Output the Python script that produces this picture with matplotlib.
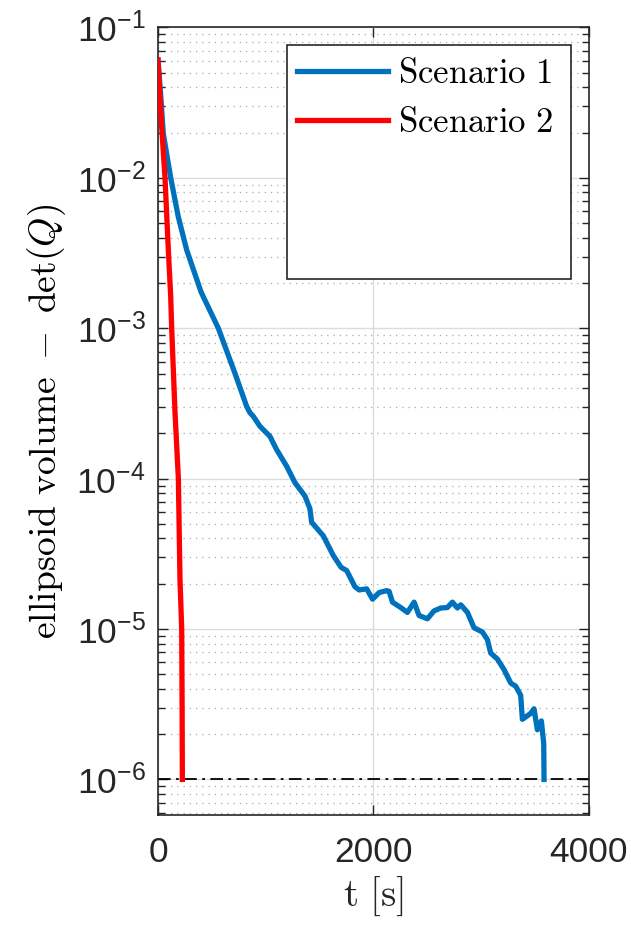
import matplotlib
matplotlib.use("Agg")
import matplotlib.pyplot as plt
import numpy as np
from matplotlib.patches import Rectangle
from matplotlib.ticker import LogLocator, FixedLocator, NullFormatter

plt.rcParams['font.family'] = 'Liberation Sans'
plt.rcParams['mathtext.fontset'] = 'custom'
plt.rcParams['mathtext.rm'] = 'Liberation Sans'
plt.rcParams['mathtext.it'] = 'Liberation Sans:italic'
plt.rcParams['mathtext.default'] = 'rm'

# scenario 1
t_s1 = [0, 25, 49, 118, 188, 266, 400, 560, 715, 823, 854, 884, 946, 1039, 1101,
        1194, 1271, 1364, 1410, 1426, 1534, 1627, 1700, 1751, 1828, 1867, 1937,
        1991, 2053, 2122, 2145, 2176, 2253, 2315, 2377, 2423, 2500, 2562, 2624,
        2686, 2733, 2779, 2810, 2872, 2933, 3011, 3057, 3088, 3150, 3212, 3274,
        3320, 3366, 3382, 3459, 3490, 3521, 3558, 3580, 3583]
vol_s1 = [6.08e-2, 3.55e-2, 1.97e-2, 1.0e-2, 5.52e-3, 3.32e-3, 1.74e-3, 1.0e-3,
          5.0e-4, 3.02e-4, 2.74e-4, 2.60e-4, 2.23e-4, 1.91e-4, 1.56e-4, 1.21e-4,
          9.4e-5, 7.66e-5, 6.31e-5, 5.13e-5, 4.17e-5, 3.08e-5, 2.57e-5, 2.45e-5,
          1.91e-5, 1.82e-5, 1.85e-5, 1.58e-5, 1.75e-5, 1.80e-5, 1.78e-5, 1.51e-5,
          1.39e-5, 1.29e-5, 1.51e-5, 1.23e-5, 1.17e-5, 1.32e-5, 1.38e-5, 1.39e-5,
          1.51e-5, 1.38e-5, 1.45e-5, 1.29e-5, 1.02e-5, 9.55e-6, 8.51e-6, 6.92e-6,
          6.31e-6, 5.37e-6, 4.37e-6, 4.17e-6, 3.63e-6, 2.51e-6, 2.75e-6, 2.95e-6,
          2.14e-6, 2.45e-6, 1.74e-6, 1.0e-6]

# scenario 2
t_s2 = [0, 28, 65, 96, 118, 127, 158, 189, 204, 220, 224, 226]
vol_s2 = [6.08e-2, 2.55e-2, 1.0e-2, 3.3e-3, 1.62e-3, 1.0e-3, 2.75e-4, 1.0e-4,
          2.15e-5, 1.0e-5, 2.8e-6, 1.0e-6]

threshold = 1e-6
x_ticks = [0, 2000, 4000]

ink = (0.15, 0.15, 0.15)
blue = (0, 0.447, 0.741)
red = (1, 0, 0)

fig = plt.figure(figsize=(6.31, 9.25), dpi=100)
ax = fig.add_axes([0.2504, 0.1189, 0.683, 0.8514])

ax.plot(t_s1, vol_s1, color=blue, linewidth=3.8, label=r'$\mathrm{Scenario\ 1}$', zorder=3)
ax.plot(t_s2, vol_s2, color=red, linewidth=3.8, label=r'$\mathrm{Scenario\ 2}$', zorder=3)
ax.axhline(threshold, color='black', linestyle=(0, (7, 3, 1.5, 3)), linewidth=1.3, zorder=2)

ax.set_yscale('log')
ax.set_xlim(0, 4000)
ax.set_ylim(5.8e-7, 1e-1)
ax.xaxis.set_major_locator(FixedLocator(x_ticks))
ax.yaxis.set_major_locator(LogLocator(base=10, numticks=20))
ax.yaxis.set_minor_locator(LogLocator(base=10, subs=np.arange(2, 10), numticks=20))
ax.yaxis.set_minor_formatter(NullFormatter())

ax.grid(which='major', axis='both', color='#dcdcdc', linestyle='-', linewidth=1.0, zorder=0)
ax.grid(which='minor', axis='y', color='#a8a8a8', linestyle=(0, (1, 4)), linewidth=0.9, zorder=0)
ax.set_axisbelow(True)

ax.tick_params(which='both', direction='in', top=True, right=True, colors=ink,
               labelsize=25.5, labelcolor=ink)
ax.tick_params(which='major', length=7, width=1.0)
ax.tick_params(which='minor', length=5, width=1.0)
ax.tick_params(axis='x', which='major', pad=15)
ax.tick_params(axis='y', which='major', pad=9)
for sp in ax.spines.values():
    sp.set_color(ink)
    sp.set_linewidth(1.2)

ax.set_xlabel(r'$\mathrm{t\ [s]}$', fontsize=28, color=ink, math_fontfamily='cm', labelpad=4)
ax.set_ylabel(r'$\mathrm{ellipsoid\ volume}\ -\ \mathrm{det}(\mathit{Q})$', fontsize=27,
              color='black', math_fontfamily='cm', labelpad=6)

# legend box (fixed size like the original)
box = Rectangle((287 / 631, 1 - 279 / 925), (571 - 287) / 631, (279 - 45) / 925,
                transform=fig.transFigure, facecolor='white', edgecolor=ink,
                linewidth=1.2, zorder=4)
ax.add_patch(box)
box.set_clip_on(False)
leg = ax.legend(loc='upper left', bbox_to_anchor=(273 / 631, 1 - 33 / 925),
                bbox_transform=fig.transFigure, frameon=False, handlelength=2.6,
                handletextpad=0.3, labelspacing=0.45, borderpad=0.2,
                prop={'size': 25, 'math_fontfamily': 'cm'})
leg.set_zorder(5)

fig.savefig('out.png', dpi=100)
